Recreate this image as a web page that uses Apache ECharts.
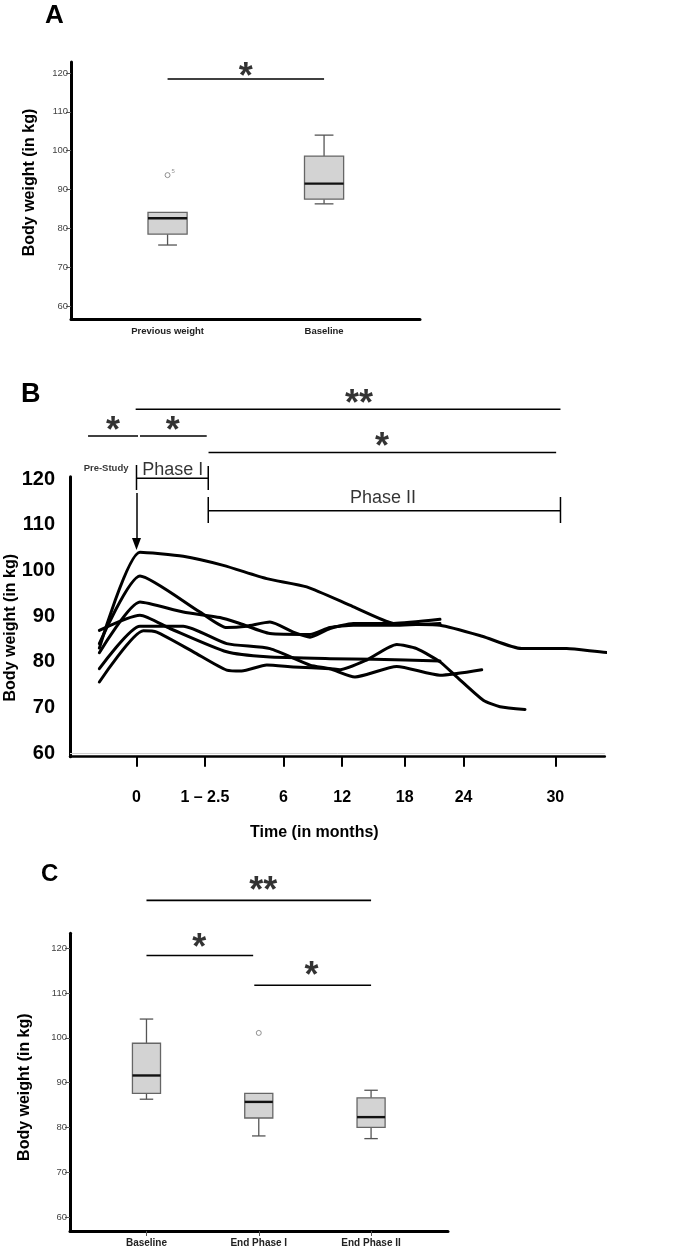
<!DOCTYPE html>
<html><head><meta charset="utf-8">
<script src="https://cdn.jsdelivr.net/npm/echarts@6/dist/echarts.min.js"></script>
<style>html,body{margin:0;padding:0;background:#fff}#c{width:675px;height:1251px}</style>
</head><body><div id="c"></div>
<script>
// ---------------- Panel A : box plots ----------------
const catsA = ['Previous weight', 'Baseline'];
// [min, Q1, median, Q3, max]
const boxA = [
  [75.7, 78.5, 82.6, 84.1, 84.1],
  [86.3, 87.5, 91.5, 98.6, 104.0]
];
const outliersA = [[1, 93.7, '5']];           // [category position, value, case label]
const sigA = [[1, 2, 118.45, '*', 1.5, 121.0]]; // [from, to, level, mark, markX, markY]

// ---------------- Panel C : box plots ----------------
const catsC = ['Baseline', 'End Phase I', 'End Phase II'];
const boxC = [
  [86.3, 87.6, 91.6, 98.8, 104.2],
  [78.1, 82.1, 85.7, 87.6, 87.6],
  [77.5, 80.0, 82.3, 86.6, 88.3]
];
const outliersC = [[2, 101.1, '']];
const sigC = [
  [1, 3, 130.7, '**', 2.04, 134.6],
  [1, 1.95, 118.4, '*', 1.47, 121.85],
  [1.96, 3, 111.75, '*', 2.47, 115.6]
];

const weightTicks = [60, 70, 80, 90, 100, 110, 120];

// ---------------- Panel B : individual trajectories ----------------
const timeLabels = ['0', '1 \u2013 2.5', '6', '12', '18', '24', '30'];
const timeTickPos = [0, 4.90, 10.52, 14.73, 19.21, 23.43, 30];
const patient1 = [[-2.66,83.0],[0.25,104.0],[3.35,103.1],[6.22,101.1],[9.33,98.2],[12.19,96.4],[15.5,92.1],[18.40,88.4],[21.74,88.0],[24.76,85.6],[27.59,82.9],[30.81,82.9],[34.04,82.0],[37.02,84.9]];
const patient2 = [[-2.66,84.0],[0.25,98.8],[4.55,90.9],[6.46,87.5],[7.89,87.8],[9.56,88.7],[11.23,86.5],[12.43,85.4],[13.86,87.3],[15.53,88.4],[18.40,88.4],[21.74,89.3]];
const patient3 = [[-2.66,82.0],[0.25,93.1],[3.35,90.9],[5.98,89.7],[7.41,88.4],[9.56,86.2],[12.43,86.0],[13.86,87.5],[15.53,88.0],[18.40,88.0],[21.74,88.4]];
const patient4 = [[-2.66,86.9],[0.25,90.2],[2.40,87.3],[6.46,82.2],[9.33,81.1],[13.86,80.7],[17.0,80.6],[21.74,80.2]];
const patient5 = [[-2.66,78.5],[0.25,87.8],[3.35,87.8],[6.46,84.0],[9.56,82.9],[12.43,79.3],[13.86,78.5],[15.65,76.7],[18.64,79.0],[21.74,77.1],[24.73,78.3]];
const patient6 = [[-2.66,75.6],[0.49,86.8],[1.45,86.5],[4.07,82.2],[6.46,78.2],[7.53,78.0],[9.33,79.3],[11.23,78.9],[13.86,78.5],[14.58,78.3],[16.49,80.4],[18.64,83.8],[20.07,82.9],[21.74,80.0],[22.94,76.7],[24.84,71.6],[26.04,70.2],[27.83,69.6]];
const patients = [patient1, patient2, patient3, patient4, patient5, patient6];

// annotations of panel B (in axis units)
const sigB = [[-0.06, 30.37, 135.24], [-3.47, 0.11, 129.40], [0.25, 5.03, 129.40], [5.16, 30.06, 125.79]];
const sigMarksB = [['**', 15.94, 138.15], ['*', -1.68, 132.31], ['*', 2.59, 132.31], ['*', 17.59, 128.64]];
const bracketSegsB = [
  [0, 123.06, 0, 117.59], [0, 120.15, 5.14, 120.15], [5.14, 122.84, 5.14, 117.59],
  [5.14, 116.06, 5.14, 110.37], [5.14, 113.06, 30.37, 113.06], [30.37, 116.06, 30.37, 110.37]
];
const phaseTextB = [['Pre-Study', -2.18, 122.34, 9.5, 'bold'], ['Phase I', 2.59, 121.96, 18, 'normal'], ['Phase II', 17.66, 115.73, 18, 'normal']];
const arrowB = [0, 116.93, 0, 105.77];

// ---------------- chart ----------------
const FONT = 'Liberation Sans';
const BOX_W = 0.25, CAP_W = 0.12;
const STAR_SIZE = 36, STAR_OFF = [0, 9];

function boxRender(params, api) {
  const x = api.value(0);
  const pMin = api.coord([x, api.value(1)]);
  const pQ1 = api.coord([x, api.value(2)]);
  const pMed = api.coord([x, api.value(3)]);
  const pQ3 = api.coord([x, api.value(4)]);
  const pMax = api.coord([x, api.value(5)]);
  const w = api.size([BOX_W, 0])[0];
  const cw = api.size([CAP_W, 0])[0];
  const cx = pMed[0];
  const ws = {stroke: '#555', lineWidth: 1.3};
  const ch = [];
  if (pMax[1] < pQ3[1] - 0.5) {
    ch.push({type: 'line', shape: {x1: cx, y1: pQ3[1], x2: cx, y2: pMax[1]}, style: ws});
    ch.push({type: 'line', shape: {x1: cx - cw / 2, y1: pMax[1], x2: cx + cw / 2, y2: pMax[1]}, style: ws});
  }
  if (pMin[1] > pQ1[1] + 0.5) {
    ch.push({type: 'line', shape: {x1: cx, y1: pQ1[1], x2: cx, y2: pMin[1]}, style: ws});
    ch.push({type: 'line', shape: {x1: cx - cw / 2, y1: pMin[1], x2: cx + cw / 2, y2: pMin[1]}, style: ws});
  }
  ch.push({type: 'rect', shape: {x: cx - w / 2, y: pQ3[1], width: w, height: pQ1[1] - pQ3[1]},
           style: {fill: '#d3d3d3', stroke: '#666', lineWidth: 1.3}});
  ch.push({type: 'line', shape: {x1: cx - w / 2, y1: pMed[1], x2: cx + w / 2, y2: pMed[1]},
           style: {stroke: '#111', lineWidth: 2.4}});
  return {type: 'group', children: ch};
}

function nearestLabel(v, pos, labels) {
  let best = 0;
  for (let i = 1; i < pos.length; i++) if (Math.abs(pos[i] - v) < Math.abs(pos[best] - v)) best = i;
  return Math.abs(pos[best] - v) < 0.01 ? labels[best] : '';
}

function textSeries(xi, yi, items) {
  return {
    type: 'scatter', xAxisIndex: xi, yAxisIndex: yi, clip: false, silent: true,
    symbol: 'circle', symbolSize: 1, itemStyle: {color: 'rgba(0,0,0,0)'},
    data: items.map(t => ({value: [t.x, t.y], name: t.text, label: {
      show: true, position: 'inside', formatter: t.text, color: '#000',
      fontSize: t.size, fontWeight: t.weight || 'normal', fontFamily: t.font || FONT,
      offset: t.offset || [0, 0]
    }}))
  };
}
function segSeries(xi, yi, x1, y1, x2, y2, width) {
  return {type: 'line', xAxisIndex: xi, yAxisIndex: yi, clip: false, silent: true, symbol: 'none',
          data: [[x1, y1], [x2, y2]], lineStyle: {color: '#000', width: width || 1.5}};
}
const star = s => ({text: s[0], x: s[1], y: s[2], size: STAR_SIZE, weight: 'bold', offset: STAR_OFF});

const series = [];
// Panel A
series.push({type: 'custom', xAxisIndex: 0, yAxisIndex: 0, renderItem: boxRender,
  encode: {x: 0, y: [1, 2, 3, 4, 5]}, data: boxA.map((b, i) => [i + 1].concat(b))});
series.push({type: 'scatter', xAxisIndex: 0, yAxisIndex: 0, symbol: 'circle', symbolSize: 5,
  itemStyle: {color: '#fff', borderColor: '#777', borderWidth: 1},
  label: {show: true, position: 'right', distance: 1, offset: [0, -4], fontSize: 6, color: '#777', formatter: p => p.data[2]},
  data: outliersA});
sigA.forEach(s => series.push(segSeries(0, 0, s[0], s[2], s[1], s[2], 1.6)));
series.push(textSeries(0, 0, sigA.map(s => star([s[3], s[4], s[5]]))));

// Panel B
patients.forEach(p => series.push({type: 'line', xAxisIndex: 1, yAxisIndex: 1, clip: false, symbol: 'none',
  smooth: 0.2, data: p, lineStyle: {color: '#000', width: 3, cap: 'round', join: 'round'}, silent: true}));
sigB.forEach(s => series.push(segSeries(1, 1, s[0], s[2], s[1], s[2], 1.6)));
bracketSegsB.forEach(s => series.push(segSeries(1, 1, s[0], s[1], s[2], s[3], 1.5)));
series.push({type: 'line', xAxisIndex: 1, yAxisIndex: 1, clip: false, silent: true, symbol: 'none', data: [],
  markLine: {silent: true, symbol: 'none', label: {show: false}, animation: false,
    data: [
      [{coord: [arrowB[0], arrowB[1]], symbol: 'none'}, {coord: [arrowB[2], arrowB[3]], symbol: 'triangle', symbolSize: [9, 12]}]
    ],
    lineStyle: {color: '#000', width: 1.5, type: 'solid'}}});
series.push({type: 'line', xAxisIndex: 1, yAxisIndex: 1, silent: true, symbol: 'none', data: [],
  markLine: {silent: true, symbol: 'none', label: {show: false}, animation: false,
    data: [{yAxis: 60}], lineStyle: {color: '#cfcfcf', width: 1, type: 'solid'}}});
series.push(textSeries(1, 1, sigMarksB.map(star)));
series.push(textSeries(1, 1, phaseTextB.map(s => ({text: s[0], x: s[1], y: s[2], size: s[3], weight: s[4]}))));

// Panel C
series.push({type: 'custom', xAxisIndex: 2, yAxisIndex: 2, renderItem: boxRender,
  encode: {x: 0, y: [1, 2, 3, 4, 5]}, data: boxC.map((b, i) => [i + 1].concat(b))});
series.push({type: 'scatter', xAxisIndex: 2, yAxisIndex: 2, symbol: 'circle', symbolSize: 5,
  itemStyle: {color: '#fff', borderColor: '#777', borderWidth: 1}, data: outliersC});
sigC.forEach(s => series.push(segSeries(2, 2, s[0], s[2], s[1], s[2], 1.6)));
series.push(textSeries(2, 2, sigC.map(s => star([s[3], s[4], s[5]]))));

const smallAxisY = (min, max, gap, pad) => ({
  type: 'value', min: min, max: max,
  axisLine: {show: true, onZero: false, lineStyle: {color: '#000', width: 3}},
  axisTick: {show: true, customValues: weightTicks, length: 5, lineStyle: {color: '#555', width: 1}},
  axisLabel: {show: true, customValues: weightTicks, fontSize: 9.5, color: '#444', margin: 3},
  splitLine: {show: false},
  name: 'Body weight (in kg)', nameLocation: 'middle', nameGap: gap, nameMoveOverlap: false,
  nameTextStyle: {fontSize: 16, fontWeight: 'bold', color: '#000', padding: pad}
});

const option = {
  animation: false,
  backgroundColor: '#fff',
  textStyle: {fontFamily: FONT},
  title: [
    {text: 'A', left: 45, top: 3, padding: 0, textStyle: {fontSize: 26, fontWeight: 'bold', color: '#000'}},
    {text: 'B', left: 21, top: 381, padding: 0, textStyle: {fontSize: 27, fontWeight: 'bold', color: '#000'}},
    {text: 'C', left: 41, top: 862, padding: 0, textStyle: {fontSize: 24, fontWeight: 'bold', color: '#000'}}
  ],
  grid: [
    {left: 71, top: 62, width: 349, height: 257, outerBoundsMode: 'none', containLabel: false},
    {left: 70, top: 476.7, width: 534.8, height: 280, outerBoundsMode: 'none', containLabel: false},
    {left: 70, top: 933.3, width: 378, height: 297.7, outerBoundsMode: 'none', containLabel: false}
  ],
  xAxis: [
    {gridIndex: 0, type: 'value', min: 0.383, max: 2.613,
     axisLine: {show: true, onZero: false, lineStyle: {color: '#000', width: 3}}, axisTick: {show: false}, splitLine: {show: false},
     axisLabel: {customValues: [1, 2], formatter: v => catsA[Math.round(v) - 1] || '', fontSize: 9.5, fontWeight: 'bold', color: '#222', margin: 7}},
    {gridIndex: 1, type: 'value', min: -4.763, max: 33.545,
     axisLine: {show: true, onZero: false, lineStyle: {color: '#000', width: 2.5}},
     axisTick: {show: true, customValues: timeTickPos, length: 10, lineStyle: {color: '#000', width: 2}},
     axisLabel: {customValues: timeTickPos, formatter: v => nearestLabel(v, timeTickPos, timeLabels), fontSize: 16, fontWeight: 'bold', color: '#000', margin: 33},
     splitLine: {show: false},
     name: 'Time (in months)', nameLocation: 'middle', nameGap: 68, nameMoveOverlap: false,
     nameTextStyle: {fontSize: 16, fontWeight: 'bold', color: '#000', padding: [0, 46, 0, 0]}},
    {gridIndex: 2, type: 'value', min: 0.319, max: 3.685,
     axisLine: {show: true, onZero: false, lineStyle: {color: '#000', width: 3}},
     axisTick: {show: true, customValues: [1, 2, 3], length: 5, lineStyle: {color: '#555', width: 1}}, splitLine: {show: false},
     axisLabel: {customValues: [1, 2, 3], formatter: v => catsC[Math.round(v) - 1] || '', fontSize: 10, fontWeight: 'bold', color: '#222', margin: 7}}
  ],
  yAxis: [
    Object.assign({gridIndex: 0}, smallAxisY(56.65, 122.83, 33, [0, 0, 0, 16])),
    {gridIndex: 1, type: 'value', min: 59.26, max: 120.5,
     axisLine: {show: true, onZero: false, lineStyle: {color: '#000', width: 3}}, axisTick: {show: false}, splitLine: {show: false},
     axisLabel: {customValues: weightTicks, fontSize: 20, fontWeight: 'bold', color: '#000', margin: 15},
     name: 'Body weight (in kg)', nameLocation: 'middle', nameGap: 51, nameMoveOverlap: false,
     nameTextStyle: {fontSize: 16, fontWeight: 'bold', color: '#000', padding: [0, 22, 0, 0]}},
    Object.assign({gridIndex: 2}, smallAxisY(56.87, 123.35, 37, [0, 10, 0, 0]))
  ],
  series: series
};
const chart = echarts.init(document.getElementById('c'), null, {renderer: 'canvas'});
chart.setOption(option);
</script></body></html>
